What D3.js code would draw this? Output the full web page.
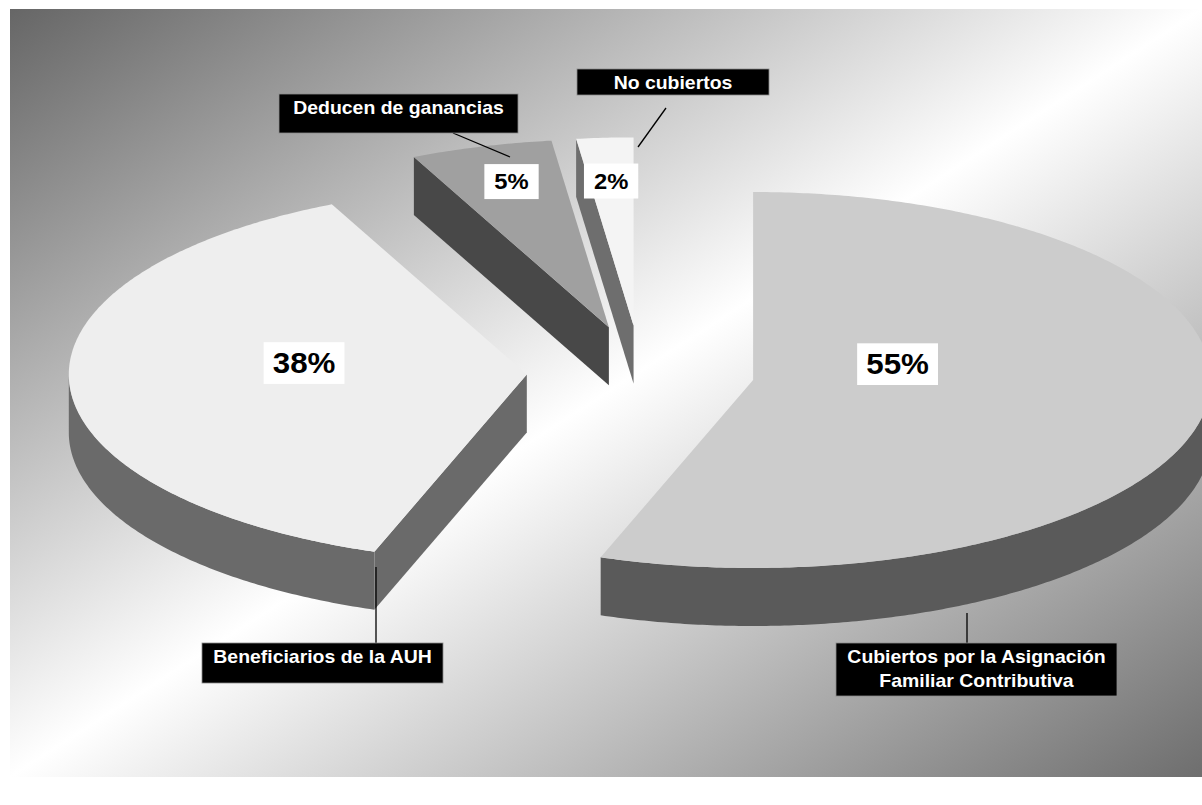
<!DOCTYPE html>
<html lang="es">
<head>
<meta charset="UTF-8">
<title>Cobertura de asignaciones</title>
<script src="https://d3js.org/d3.v7.min.js"></script>
<style>
  body { margin: 0; background: #fff; }
  svg { display: block; font-family: "Liberation Sans", Arial, sans-serif; }
</style>
</head>
<body>
<svg id="chart" width="1202" height="805"></svg>
<script>
// --- data ---
const categories = [
  "Cubiertos por la Asignación Familiar Contributiva",
  "Beneficiarios de la AUH",
  "Deducen de ganancias",
  "No cubiertos"
];
const calloutLines = [
  ["Cubiertos por la Asignación", "Familiar Contributiva"],
  ["Beneficiarios de la AUH"],
  ["Deducen de ganancias"],
  ["No cubiertos"]
];
const shares = [55.4, 37.6, 5.0, 2.0];

// --- styles ---
const topColors = ["#cccccc", "#eeeeee", "#a0a0a0", "#f4f4f4"];
const sideColors = ["#5a5a5a", "#6a6a6a", "#484848", "#6e6e6e"];

// --- layout ---
const svg = d3.select("#chart");
const plot = { x: 10, y: 9, w: 1192, h: 768 };
const geo = { cx: 640.7, cy: 372.1, rx: 458, ry: 188, depth: 58, explode: 0.249 };
const textStretch = 1.08;

// where the value label sits: fraction along the mid radius, then a vertical nudge
const valueLabelAt = [[0.32, -26], [0.487, -16], [0.762, -8], [0.78, 2]];
// callout boxes and their leader lines
const callouts = [
  { box: [836, 643, 281, 53], line: [[967, 613], [967, 643]] },
  { box: [202, 643, 241, 40], line: [[376, 567], [376, 643]] },
  { box: [279, 94, 239, 39], line: [[453, 133], [510, 157]] },
  { box: [577, 69, 192, 26], line: [[666, 108], [638, 147]] }
];

// background gradient
const defs = svg.append("defs");
const grad = defs.append("linearGradient").attr("id", "bg")
  .attr("x1", 0).attr("y1", 0).attr("x2", 1).attr("y2", 1);
grad.append("stop").attr("offset", 0).attr("stop-color", "#666666");
grad.append("stop").attr("offset", 0.5).attr("stop-color", "#ffffff");
grad.append("stop").attr("offset", 1).attr("stop-color", "#6e6e6e");

svg.append("rect")
  .attr("x", plot.x).attr("y", plot.y)
  .attr("width", plot.w).attr("height", plot.h)
  .attr("fill", "url(#bg)");

// pie angles (clockwise from 12 o'clock)
const arcs = d3.pie().sort(null).value(d => d)(shares);

arcs.forEach(a => {
  const mid = (a.startAngle + a.endAngle) / 2;
  a.mid = mid;
  a.ox = geo.cx + geo.explode * geo.rx * Math.sin(mid);
  a.oy = geo.cy - geo.explode * geo.ry * Math.cos(mid);
});

function pt(a, ang, rho, z) {
  return [a.ox + rho * geo.rx * Math.sin(ang), a.oy - rho * geo.ry * Math.cos(ang) + z];
}
function sweep(s, e) {
  const n = Math.max(2, Math.ceil((e - s) / 0.01));
  return d3.range(n + 1).map(i => s + (e - s) * i / n);
}
const line = d3.line();

// back slices first
const order = d3.range(arcs.length).sort((i, j) => arcs[i].oy - arcs[j].oy);

const pieG = svg.append("g");
order.forEach(i => {
  const a = arcs[i];
  const g = pieG.append("g");
  const s = a.startAngle, e = a.endAngle;

  // radial cut faces that face the viewer
  const faces = [];
  if (Math.cos(s - Math.PI / 2) < 0) faces.push(s);
  if (Math.cos(e + Math.PI / 2) < 0) faces.push(e);
  faces.forEach(ang => {
    const pts = [pt(a, ang, 0, 0), pt(a, ang, 1, 0), pt(a, ang, 1, geo.depth), pt(a, ang, 0, geo.depth)];
    g.append("path").attr("d", line(pts) + "Z").attr("fill", sideColors[i]);
  });

  // outer curved wall, front half only
  const fs = Math.max(s, Math.PI / 2), fe = Math.min(e, 3 * Math.PI / 2);
  if (fe > fs) {
    const angs = sweep(fs, fe);
    const pts = angs.map(t => pt(a, t, 1, 0))
      .concat(angs.slice().reverse().map(t => pt(a, t, 1, geo.depth)));
    g.append("path").attr("d", line(pts) + "Z").attr("fill", sideColors[i]);
  }

  // top face
  const topPts = [pt(a, s, 0, 0)].concat(sweep(s, e).map(t => pt(a, t, 1, 0)));
  g.append("path").attr("d", line(topPts) + "Z").attr("fill", topColors[i]);
});

// value labels
arcs.forEach((a, i) => {
  const [k, dy] = valueLabelAt[i];
  const [x, y0] = pt(a, a.mid, k, 0);
  const y = y0 + dy;
  const big = a.data > 10;
  const size = big ? 29 : 22;
  const padX = big ? 9 : 10, padY = 5;
  const g = svg.append("g");
  const rect = g.append("rect").attr("fill", "#ffffff");
  const t = g.append("text")
    .attr("transform", `translate(${x},${y}) scale(${textStretch},1)`)
    .attr("text-anchor", "middle")
    .attr("dominant-baseline", "central")
    .attr("font-size", size)
    .attr("font-weight", "bold")
    .attr("fill", "#000")
    .text(Math.round(a.data) + "%");
  const bb = t.node().getBBox();
  const w = bb.width * textStretch + 2 * padX, h = bb.height + 2 * padY;
  rect.attr("x", x - w / 2).attr("y", y - h / 2).attr("width", w).attr("height", h);
});

// callouts
callouts.forEach((c, i) => {
  const [bx, by, bw, bh] = c.box;
  svg.append("path")
    .attr("d", line(c.line))
    .attr("stroke", "#000").attr("stroke-width", 1.3).attr("fill", "none");
  svg.append("rect")
    .attr("x", bx).attr("y", by).attr("width", bw).attr("height", bh)
    .attr("fill", "#000").attr("stroke", "#8a8a8a").attr("stroke-width", 0.8);
  calloutLines[i].forEach((txt, j) => {
    svg.append("text")
      .attr("transform", `translate(${bx + bw / 2},${by + 20 + j * 24}) scale(${textStretch},1)`)
      .attr("text-anchor", "middle")
      .attr("font-size", 18)
      .attr("font-weight", "bold")
      .attr("fill", "#ffffff")
      .text(txt);
  });
});
</script>
</body>
</html>
